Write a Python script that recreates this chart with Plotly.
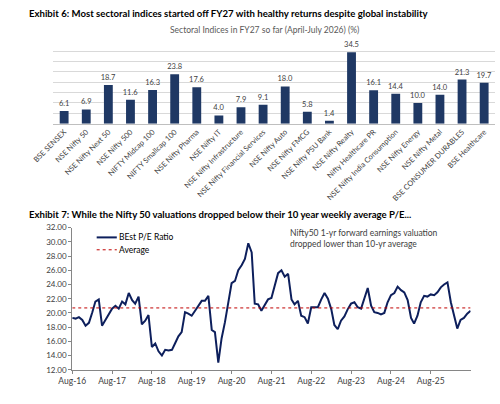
"""
Exhibit 6 / Exhibit 7: sectoral index returns and Nifty 50 forward P/E
"""

import plotly.graph_objects as go
import pandas as pd

# Exhibit 6 data
SECTORS = [
    "BSE SENSEX", "NSE Nifty 50", "NSE Nifty Next 50", "NSE Nifty 500",
    "NIFTY Midcap 100", "NIFTY Smallcap 100", "NSE Nifty Pharma", "NSE Nifty IT",
    "NSE Nifty Infrastructure", "NSE Nifty Financial Services", "NSE Nifty Auto",
    "NSE Nifty FMCG", "NSE Nifty PSU Bank", "NSE Nifty Realty",
    "Nifty Healthcare PR", "NSE Nifty India Consumption", "NSE Nifty Energy",
    "NSE Nifty Metal", "BSE CONSUMER DURABLES", "BSE Healthcare",
]
RETURNS = [
    6.1, 6.9, 18.7, 11.6, 16.3, 23.8, 17.6, 4.0, 7.9, 9.1,
    18.0, 5.8, 1.4, 34.5, 16.1, 14.4, 10.0, 14.0, 21.3, 19.7,
]

# Exhibit 7 data (monthly reading of the weekly series, Aug-16 onwards)
PE_START = "2016-08-01"
PE_RATIO = [
    19.3, 19.2, 19.4, 19.0, 18.2, 18.6, 20.1, 21.6, 21.9, 18.2,
    19.0, 19.8, 20.6, 21.0, 20.6, 21.6, 21.2, 22.8, 21.8, 21.3,
    22.3, 18.4, 18.9, 19.7, 15.2, 15.7, 14.6, 14.0, 14.8, 14.7,
    14.8, 15.7, 16.7, 17.3, 20.1, 19.9, 19.6, 20.3, 21.0, 21.7,
    21.7, 22.4, 17.6, 17.3, 13.0, 16.4, 18.7, 21.5, 24.2, 24.5,
    26.0, 26.7, 27.6, 29.8, 28.5, 21.3, 21.2, 20.3, 21.2, 21.9,
    22.1, 23.8, 25.6, 26.0, 25.1, 25.5, 21.9, 21.2, 21.7, 19.6,
    19.4, 18.5, 20.8, 20.8, 20.8, 21.9, 22.8, 22.0, 20.5, 18.3,
    17.7, 18.9, 19.5, 20.5, 21.3, 21.5, 20.8, 20.6, 22.2, 23.5,
    21.0, 20.1, 20.0, 19.8, 20.0, 21.5, 22.5, 22.8, 23.7, 23.2,
    22.9, 21.8, 19.3, 18.5, 19.6, 21.5, 22.4, 22.3, 22.6, 22.5,
    22.9, 23.6, 24.0, 24.3, 21.5, 19.6, 17.8, 19.0, 19.3, 19.9,
    20.3,
]
PE_AVERAGE = 20.7

W, H = 500, 404
FONT = "Lato"
BAR_COLOR = "#1F3864"
LINE_COLOR = "#0D1F5C"
AVG_COLOR = "#C00000"
TEXT_COLOR = "#404040"


def px(x):
    return x / W


def py(y):
    return 1 - y / H


dates = pd.date_range(PE_START, periods=len(PE_RATIO), freq="MS")
# yearly ticks Aug-16 .. Aug-25 (no label at the very end of the series)
year_ticks = list(dates[0:len(dates) - 1:12])

fig = go.Figure()

fig.add_trace(
    go.Bar(
        x=SECTORS,
        y=RETURNS,
        text=[f"{v:.1f}" for v in RETURNS],
        textposition="outside",
        constraintext="none",
        textfont=dict(family=FONT, size=7.5, color=TEXT_COLOR),
        cliponaxis=False,
        marker=dict(color=BAR_COLOR, line=dict(width=0)),
        xaxis="x",
        yaxis="y",
        showlegend=False,
    )
)

fig.add_trace(
    go.Scatter(
        x=dates,
        y=PE_RATIO,
        mode="lines",
        name="BEst P/E Ratio",
        line=dict(color=LINE_COLOR, width=2),
        xaxis="x2",
        yaxis="y2",
        showlegend=False,
    )
)

fig.add_trace(
    go.Scatter(
        x=dates,
        y=[PE_AVERAGE] * len(dates),
        mode="lines",
        name="Average",
        line=dict(color=AVG_COLOR, width=1, dash="dot"),
        xaxis="x2",
        yaxis="y2",
        showlegend=False,
    )
)

# hand-drawn legend for the P/E chart (tighter than plotly's own)
legend_items = [
    ("BEst P/E Ratio", LINE_COLOR, 2, "solid", 238.3),
    ("Average", AVG_COLOR, 1, "dot", 251),
]
shapes = []
annotations = []
for label, color, width, dash, y in legend_items:
    shapes.append(
        dict(
            type="line", xref="paper", yref="paper",
            x0=px(79), x1=px(100), y0=py(y), y1=py(y),
            line=dict(color=color, width=width, dash=dash),
        )
    )
    annotations.append(
        dict(
            text=label, xref="paper", yref="paper", x=px(100.5), y=py(y),
            xanchor="left", yanchor="middle", showarrow=False,
            font=dict(family=FONT, size=8.5, color="#000000"),
        )
    )

annotations += [
    dict(
        text="<b>Exhibit 6: Most sectoral indices started off FY27 with healthy "
        "returns despite global instability</b>",
        xref="paper", yref="paper", x=px(6), y=py(9),
        xanchor="left", yanchor="middle", showarrow=False,
        font=dict(family=FONT, size=9.6, color="#000000"),
    ),
    dict(
        text="Sectoral Indices in FY27 so far (April-July 2026) (%)",
        xref="paper", yref="paper", x=px(254.5), y=py(26),
        xanchor="center", yanchor="middle", showarrow=False,
        font=dict(family=FONT, size=8.5, color="#595959"),
    ),
    dict(
        text="<b>Exhibit 7: While the Nifty 50 valuations dropped below their "
        "10 year weekly average P/E...</b>",
        xref="paper", yref="paper", x=px(6), y=py(215),
        xanchor="left", yanchor="middle", showarrow=False,
        font=dict(family=FONT, size=9.6, color="#000000"),
    ),
    dict(
        text="Nifty50 1-yr forward earnings valuation<br>dropped lower than 10-yr average",
        xref="paper", yref="paper", x=px(278.5), y=py(239.5),
        xanchor="left", yanchor="middle", align="left", showarrow=False,
        font=dict(family=FONT, size=8.5, color=TEXT_COLOR),
    ),
]

fig.update_layout(
    width=W,
    height=H,
    margin=dict(l=0, r=0, t=0, b=0),
    paper_bgcolor="white",
    plot_bgcolor="white",
    font=dict(family=FONT, color=TEXT_COLOR),
    bargap=0.6,
    shapes=shapes,
    annotations=annotations,
    xaxis=dict(
        domain=[px(33.5), px(495)],
        anchor="y",
        type="category",
        tickangle=-45,
        tickfont=dict(family=FONT, size=7.5, color=TEXT_COLOR),
        showline=True,
        linecolor="#BFBFBF",
        linewidth=1,
        ticks="",
        showgrid=False,
    ),
    yaxis=dict(
        domain=[py(121.7), py(36.7)],
        anchor="x",
        range=[0, 40],
        dtick=5,
        showticklabels=False,
        showgrid=True,
        gridcolor="#D9D9D9",
        gridwidth=1,
        zeroline=False,
    ),
    xaxis2=dict(
        domain=[px(53.5), px(469.3)],
        anchor="y2",
        type="date",
        range=[dates[0], dates[-1]],
        tickvals=year_ticks,
        tickformat="%b-%y",
        ticks="outside",
        ticklen=3,
        tickcolor="#868686",
        showline=True,
        linecolor="#868686",
        linewidth=1,
        showgrid=False,
        tickfont=dict(family=FONT, size=8.5, color=TEXT_COLOR),
    ),
    yaxis2=dict(
        domain=[py(374), py(228.3)],
        anchor="x2",
        range=[12, 32],
        dtick=2,
        tickformat=".2f",
        ticks="outside",
        ticklen=3,
        tickcolor="#868686",
        showline=True,
        linecolor="#868686",
        linewidth=1,
        showgrid=False,
        zeroline=False,
        tickfont=dict(family=FONT, size=8, color=TEXT_COLOR),
    ),
)

# the page's default body margin would push the 500x404 figure off the window
fig.write_html(
    "out.html",
    config={"displayModeBar": False},
    post_script="document.body.style.margin = '0'; document.body.style.overflow = 'hidden';",
)
